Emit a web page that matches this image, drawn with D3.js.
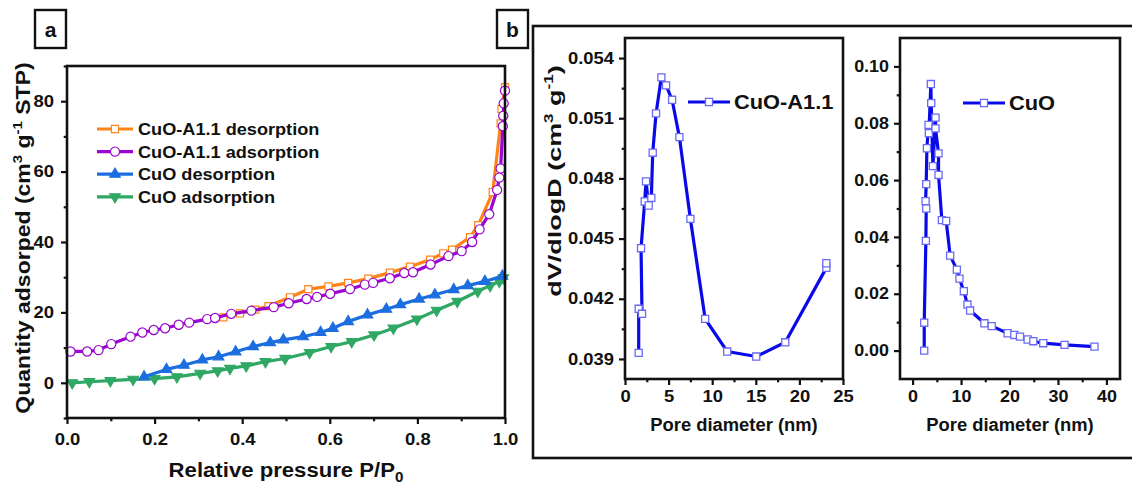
<!DOCTYPE html>
<html>
<head>
<meta charset="utf-8">
<script src="https://cdn.jsdelivr.net/npm/d3@7/dist/d3.min.js"></script>
<style>
  html, body { margin: 0; padding: 0; background: #fff; }
  svg { display: block; }
  text { font-family: "Liberation Sans", Arial, Helvetica, sans-serif; font-weight: bold; fill: #111; }
</style>
</head>
<body>
<svg id="fig" width="1132" height="484"></svg>
<script>
// ---------- (a) N2 isotherms ----------
const pA11Des = [0.357, 0.395, 0.430, 0.460, 0.509, 0.551, 0.597, 0.642, 0.688, 0.737, 0.783, 0.829, 0.859, 0.879, 0.920, 0.939, 0.972, 0.990, 0.992, 1.000];
const qA11Des = [18.6, 19.7, 20.8, 21.8, 24.3, 26.6, 27.4, 28.4, 29.6, 31.3, 33.0, 35.0, 36.8, 37.8, 41.4, 44.8, 54.2, 73.7, 77.8, 84.0];

const pA11Ads = [0.008, 0.046, 0.072, 0.101, 0.145, 0.172, 0.198, 0.224, 0.255, 0.279, 0.320, 0.338, 0.375, 0.421, 0.472, 0.506, 0.547, 0.571, 0.601, 0.646, 0.680, 0.699, 0.737, 0.770, 0.790, 0.830, 0.871, 0.901, 0.925, 0.942, 0.964, 0.982, 0.987, 0.990, 0.995, 0.996, 0.997, 1.000];
const qA11Ads = [8.9, 8.9, 9.3, 11.0, 13.1, 14.3, 15.0, 15.5, 16.5, 17.1, 18.1, 18.4, 19.6, 20.5, 21.5, 22.6, 23.8, 24.4, 25.3, 26.6, 27.9, 28.4, 29.7, 31.2, 31.4, 33.6, 36.0, 37.4, 40.0, 43.6, 47.9, 54.8, 58.3, 60.9, 72.9, 75.9, 79.4, 83.0];

const pCuODes = [0.176, 0.227, 0.267, 0.309, 0.346, 0.385, 0.425, 0.464, 0.494, 0.539, 0.579, 0.607, 0.642, 0.686, 0.729, 0.761, 0.804, 0.840, 0.883, 0.915, 0.954, 0.994];
const qCuODes = [1.7, 3.8, 5.0, 6.5, 7.4, 8.8, 10.3, 11.4, 12.2, 13.1, 14.3, 15.5, 17.4, 19.3, 20.9, 22.2, 23.8, 25.0, 26.5, 27.6, 28.8, 30.3];

const pCuOAds = [0.012, 0.051, 0.099, 0.151, 0.200, 0.251, 0.304, 0.344, 0.372, 0.409, 0.453, 0.498, 0.554, 0.603, 0.650, 0.701, 0.745, 0.799, 0.844, 0.891, 0.938, 0.966, 0.987, 0.996];
const qCuOAds = [0.0, 0.3, 0.6, 1.0, 1.2, 1.7, 2.7, 3.4, 4.1, 4.8, 6.0, 6.9, 8.6, 10.3, 11.7, 13.6, 15.5, 18.1, 20.6, 23.1, 26.0, 27.6, 28.8, 29.8];

const isoLabels = ["CuO-A1.1 desorption", "CuO-A1.1 adsorption", "CuO desorption", "CuO adsorption"];
const xTicksA = [0, 0.2, 0.4, 0.6, 0.8, 1.0];
const yTicksA = [0, 20, 40, 60, 80];

// ---------- (b) BJH pore size distributions ----------
const dA11 = [1.57, 1.57, 1.95, 1.84, 2.26, 2.41, 2.72, 3.02, 3.18, 3.56, 4.17, 4.71, 5.40, 6.24, 7.50, 9.19, 11.72, 15.05, 18.38, 23.09, 23.09];
const vA11 = [0.0393, 0.0415, 0.04125, 0.04452, 0.04685, 0.04785, 0.04665, 0.04703, 0.04928, 0.05124, 0.05304, 0.05264, 0.05192, 0.05006, 0.04598, 0.0410, 0.03937, 0.03912, 0.03983, 0.04354, 0.04377];

const dCuO = [2.40, 2.40, 2.74, 2.81, 2.68, 2.81, 2.95, 3.29, 3.36, 3.77, 3.84, 4.19, 4.73, 4.73, 5.35, 5.35, 6.04, 6.93, 7.75, 9.13, 9.67, 10.57, 11.32, 11.87, 14.82, 16.33, 19.62, 20.99, 22.16, 23.74, 24.91, 26.96, 31.36, 37.53];
const vCuO = [0.0, 0.0098, 0.0386, 0.0500, 0.0526, 0.0586, 0.0712, 0.0794, 0.0765, 0.0938, 0.0871, 0.0649, 0.0820, 0.0782, 0.0694, 0.0618, 0.0459, 0.0456, 0.0334, 0.0285, 0.0253, 0.0209, 0.0162, 0.0141, 0.0096, 0.0086, 0.0061, 0.0055, 0.0049, 0.0039, 0.0033, 0.0026, 0.0020, 0.0014];

const xTicksB1 = [0, 5, 10, 15, 20, 25];
const yTicksB1 = [0.039, 0.042, 0.045, 0.048, 0.051, 0.054];
const xTicksB2 = [0, 10, 20, 30, 40];
const yTicksB2 = [0.00, 0.02, 0.04, 0.06, 0.08, 0.10];

const svg = d3.select("#fig");
const FRAME_W = 2.6;

function zip(xs, ys) { return xs.map((x, i) => [x, ys[i]]); }

// Widen text horizontally about its anchor point (the figure's lettering is broad).
function widen(sel, s) {
  sel.each(function () {
    const t = d3.select(this);
    const x = +t.attr("x") || 0;
    t.attr("transform", `translate(${x * (1 - s)},0) scale(${s},1)`);
  });
}

// Draws ticks (major with labels, minor without) and the closed frame of a plot box.
function axesBox(g, x, y, opt) {
  const [x0, x1] = x.range(), [y1, y0] = y.range();
  const bottom = g.append("g").attr("transform", `translate(0,${y1})`)
    .call(d3.axisBottom(x).tickValues(opt.xTicks).tickSize(opt.tick).tickPadding(opt.xPad).tickFormat(opt.xFmt));
  const bottomMinor = g.append("g").attr("transform", `translate(0,${y1})`)
    .call(d3.axisBottom(x).tickValues(opt.xMinor).tickSize(opt.tick * 0.55).tickFormat(""));
  const left = g.append("g").attr("transform", `translate(${x0},0)`)
    .call(d3.axisLeft(y).tickValues(opt.yTicks).tickSize(opt.tick).tickPadding(opt.yPad).tickFormat(opt.yFmt));
  const leftMinor = g.append("g").attr("transform", `translate(${x0},0)`)
    .call(d3.axisLeft(y).tickValues(opt.yMinor).tickSize(opt.tick * 0.55).tickFormat(""));
  [bottom, bottomMinor, left, leftMinor].forEach(a => {
    a.select(".domain").remove();
    a.selectAll("line").attr("stroke", "#111").attr("stroke-width", 2.2);
    a.selectAll("text").attr("font-size", opt.fs).attr("fill", "#111")
      .attr("font-family", '"Liberation Sans", Arial, sans-serif').attr("font-weight", "bold");
  });
  widen(bottom.selectAll("text"), opt.wide);
  widen(left.selectAll("text"), opt.wide);
  g.append("rect").attr("x", x0).attr("y", y0).attr("width", x1 - x0).attr("height", y1 - y0)
    .attr("fill", "none").attr("stroke", "#111").attr("stroke-width", FRAME_W);
}

function panelTag(t, x, y) {
  svg.append("rect").attr("x", x).attr("y", y).attr("width", 31).attr("height", 38)
    .attr("fill", "#fff").attr("stroke", "#111").attr("stroke-width", 2.4);
  svg.append("text").attr("x", x + 15.5).attr("y", y + 26.5).attr("text-anchor", "middle")
    .attr("font-size", 21).text(t);
}

// ---------- panel (a) ----------
panelTag("a", 35, 10);
panelTag("b", 497, 10);

const xa = d3.scaleLinear().domain([0, 1]).range([67, 505]);
const ya = d3.scaleLinear().domain([-10, 90]).range([418, 66]);
const ga = svg.append("g");

const isoColors = ["#ff8418", "#9a05d0", "#1c6ee0", "#2fa864"];
const isoSeries = [zip(pA11Des, qA11Des), zip(pA11Ads, qA11Ads), zip(pCuODes, qCuODes), zip(pCuOAds, qCuOAds)];
const symSquare = d3.symbol().type(d3.symbolSquare).size(50)();
const symCircle = d3.symbol().type(d3.symbolCircle).size(66)();
const symTri = d3.symbol().type(d3.symbolTriangle).size(48)();
const isoMarks = [
  { d: symSquare, fill: "#fff", stroke: isoColors[0], rot: 0 },
  { d: symCircle, fill: "#fff", stroke: isoColors[1], rot: 0 },
  { d: symTri, fill: isoColors[2], stroke: isoColors[2], rot: 0 },
  { d: symTri, fill: isoColors[3], stroke: isoColors[3], rot: 180 }
];

const lineA = d3.line().x(d => xa(d[0])).y(d => ya(d[1]));
const drawOrder = [3, 2, 0, 1];
drawOrder.forEach(i => {
  ga.append("path").datum(isoSeries[i]).attr("d", lineA)
    .attr("fill", "none").attr("stroke", isoColors[i]).attr("stroke-width", 3.2).attr("stroke-linejoin", "round");
  ga.selectAll(null).data(isoSeries[i]).enter().append("path")
    .attr("d", isoMarks[i].d)
    .attr("transform", d => `translate(${xa(d[0])},${ya(d[1])}) rotate(${isoMarks[i].rot})`)
    .attr("fill", isoMarks[i].fill).attr("stroke", isoMarks[i].stroke).attr("stroke-width", 1.2);
});

axesBox(ga, xa, ya, {
  xTicks: xTicksA, xMinor: [0.1, 0.3, 0.5, 0.7, 0.9], yTicks: yTicksA, yMinor: [-10, 10, 30, 50, 70, 90],
  tick: 6, xPad: 9, yPad: 7, fs: 16.5, wide: 1.12, xFmt: d3.format(".1f"), yFmt: d3.format("d")
});

// legend (a)
isoLabels.forEach((lab, i) => {
  const yy = 129 + i * 22.6;
  ga.append("line").attr("x1", 97).attr("x2", 133).attr("y1", yy).attr("y2", yy)
    .attr("stroke", isoColors[i]).attr("stroke-width", 3.2);
  ga.append("path").attr("d", isoMarks[i].d)
    .attr("transform", `translate(115,${yy}) rotate(${isoMarks[i].rot})`)
    .attr("fill", isoMarks[i].fill).attr("stroke", isoMarks[i].stroke).attr("stroke-width", 1.2);
  const t = ga.append("text").attr("x", 138).attr("y", yy + 6).attr("font-size", 16.5).text(lab);
  widen(t, 1.1);
});

// axis titles (a)
const tyA = ga.append("text").attr("transform", "translate(30,238) rotate(-90) scale(1.15,1)")
  .attr("text-anchor", "middle").attr("font-size", 20);
tyA.append("tspan").text("Quantity adsorped (cm");
tyA.append("tspan").attr("font-size", 13).attr("dy", -8).text("3");
tyA.append("tspan").attr("dy", 8).text(" g");
tyA.append("tspan").attr("font-size", 13).attr("dy", -8).text("-1");
tyA.append("tspan").attr("dy", 8).text(" STP)");

const txA = ga.append("text").attr("x", 286).attr("y", 477).attr("text-anchor", "middle").attr("font-size", 20.5);
txA.append("tspan").text("Relative pressure P/P");
txA.append("tspan").attr("font-size", 14).attr("dy", 5).text("0");
widen(txA, 1.08);

// ---------- panel (b) ----------
svg.append("rect").attr("x", 533).attr("y", 26).attr("width", 620).attr("height", 432)
  .attr("fill", "none").attr("stroke", "#111").attr("stroke-width", 2.6);

const blueLine = "#0a0ae8";
const blueMark = "#6a6af6";
const symSqB = d3.symbol().type(d3.symbolSquare).size(50)();

function psdPanel(xs, ys, xScale, yScale, o) {
  const g = svg.append("g");
  const line = d3.line().x(d => xScale(d[0])).y(d => yScale(d[1]));
  const data = zip(xs, ys);
  g.append("path").datum(data).attr("d", line).attr("fill", "none")
    .attr("stroke", blueLine).attr("stroke-width", 3.2).attr("stroke-linejoin", "round");
  g.selectAll(null).data(data).enter().append("path").attr("d", symSqB)
    .attr("transform", d => `translate(${xScale(d[0])},${yScale(d[1])})`)
    .attr("fill", "#fff").attr("stroke", blueMark).attr("stroke-width", 1.3);
  axesBox(g, xScale, yScale, o);
  // legend
  g.append("line").attr("x1", o.legX).attr("x2", o.legX + 42).attr("y1", o.legY).attr("y2", o.legY)
    .attr("stroke", blueLine).attr("stroke-width", 3.2);
  g.append("path").attr("d", symSqB).attr("transform", `translate(${o.legX + 21},${o.legY})`)
    .attr("fill", "#fff").attr("stroke", blueMark).attr("stroke-width", 1.3);
  const lt = g.append("text").attr("x", o.legX + 46).attr("y", o.legY + 7).attr("font-size", 19.5).text(o.name);
  widen(lt, 1.12);
  const [x0, x1] = xScale.range();
  const tt = g.append("text").attr("x", (x0 + x1) / 2).attr("y", 431).attr("text-anchor", "middle")
    .attr("font-size", 17.5).text("Pore diameter (nm)");
  widen(tt, 1.05);
  return g;
}

const xb1 = d3.scaleLinear().domain([0, 25]).range([625, 843]);
const yb1 = d3.scaleLinear().domain([0.038, 0.055]).range([379, 38]);
psdPanel(dA11, vA11, xb1, yb1, {
  xTicks: xTicksB1, xMinor: [2.5, 7.5, 12.5, 17.5, 22.5], yTicks: yTicksB1, yMinor: [0.0405, 0.0435, 0.0465, 0.0495, 0.0525],
  tick: 6, xPad: 6, yPad: 5, fs: 16, wide: 1.15, xFmt: d3.format("d"), yFmt: d3.format(".3f"),
  legX: 688, legY: 102, name: "CuO-A1.1"
});

const xb2 = d3.scaleLinear().domain([-2.6, 42.8]).range([900, 1120]);
const yb2 = d3.scaleLinear().domain([-0.01, 0.11]).range([379, 38]);
psdPanel(dCuO, vCuO, xb2, yb2, {
  xTicks: xTicksB2, xMinor: [5, 15, 25, 35], yTicks: yTicksB2, yMinor: [0.01, 0.03, 0.05, 0.07, 0.09],
  tick: 6, xPad: 6, yPad: 5, fs: 16, wide: 1.12, xFmt: d3.format("d"), yFmt: d3.format(".2f"),
  legX: 963, legY: 103, name: "CuO"
});

// y title (b)
const tyB = svg.append("text").attr("transform", "translate(561,181) rotate(-90) scale(1.42,1)")
  .attr("text-anchor", "middle").attr("font-size", 19);
tyB.append("tspan").text("dV/dlogD (cm");
tyB.append("tspan").attr("font-size", 12).attr("dy", -8).text("3");
tyB.append("tspan").attr("dy", 8).text(" g");
tyB.append("tspan").attr("font-size", 12).attr("dy", -8).text("-1");
tyB.append("tspan").attr("dy", 8).text(")");
</script>
</body>
</html>
